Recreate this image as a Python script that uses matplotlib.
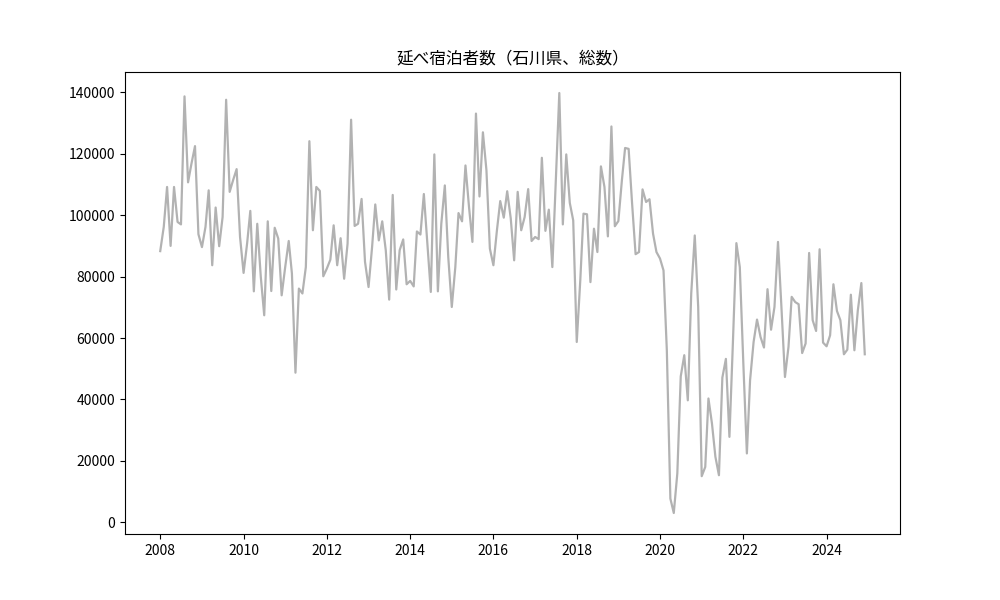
import numpy as np
import pandas as pd
import matplotlib
matplotlib.use('Agg')
import matplotlib.pyplot as plt
import matplotlib.dates as mdates

plt.rcParams['font.family'] = ['Noto Sans CJK JP', 'DejaVu Sans']

# monthly values, 2008-01 .. 2024-12
values_2008_2010 = [
    88300, 96200, 109200, 90000, 109200, 97800, 97000, 138700, 110700, 116800, 122500, 93800,
    89600, 96200, 108100, 83700, 102500, 89900, 99400, 137600, 107600, 111400, 115000, 92900,
    81200, 90800, 101400, 75200, 97200, 79900, 67400, 98000, 75300, 95900, 92400, 73900,
]
values_2011_2013 = [
    83100, 91600, 81000, 48700, 76100, 74500, 83100, 124100, 95100, 109200, 107900, 80100,
    82600, 85500, 96700, 83700, 92500, 79300, 90700, 131100, 96500, 97200, 105300, 84800,
    76600, 89600, 103500, 91800, 98000, 88600, 72500, 106600, 75800, 88600, 92100, 77500,
]
values_2014_2016 = [
    78600, 76800, 94700, 93700, 106900, 90700, 75000, 119800, 75200, 97200, 109700, 86400,
    70100, 83100, 100700, 98000, 116200, 102700, 91300, 133100, 106100, 127000, 114600, 89100,
    83700, 95100, 104600, 99200, 107800, 99000, 85300, 107600, 95100, 99400, 108500, 91600,
]
values_2017_2019 = [
    92900, 92200, 118700, 94900, 101800, 83100, 111400, 139800, 97000, 119800, 104000, 98300,
    58700, 78800, 100500, 100300, 78200, 95600, 88000, 115900, 109200, 93100, 128900, 96400,
    98100, 111400, 121900, 121600, 104000, 87300, 88000, 108400, 104300, 105200, 94000, 88000,
]
values_2020_2022 = [
    85900, 82000, 56000, 7700, 3000, 15900, 47500, 54400, 39700, 74500, 93400, 70100,
    15000, 18000, 40300, 32100, 21300, 15300, 47100, 53200, 27800, 58000, 90900, 83100,
    51700, 22400, 46200, 58700, 66000, 60300, 56900, 75900, 62700, 70100, 91300, 70100,
]
values_2023_2024 = [
    47300, 57100, 73400, 71700, 71000, 55100, 58200, 87700, 65800, 62300, 88900, 58500,
    57300, 60900, 77500, 68800, 65800, 54700, 56200, 74100, 56000, 69000, 77900, 54700,
]

values = (values_2008_2010 + values_2011_2013 + values_2014_2016
          + values_2017_2019 + values_2020_2022 + values_2023_2024)
dates = pd.date_range('2008-01-01', periods=len(values), freq='MS')

fig, ax = plt.subplots(figsize=(10, 6), dpi=100)
ax.plot(dates, values, color='gray', alpha=0.6, linewidth=1.6)

ax.set_title('延べ宿泊者数（石川県、総数）')
ax.xaxis.set_major_locator(mdates.YearLocator(2))
ax.xaxis.set_major_formatter(mdates.DateFormatter('%Y'))

fig.savefig('out.png', dpi=100)
